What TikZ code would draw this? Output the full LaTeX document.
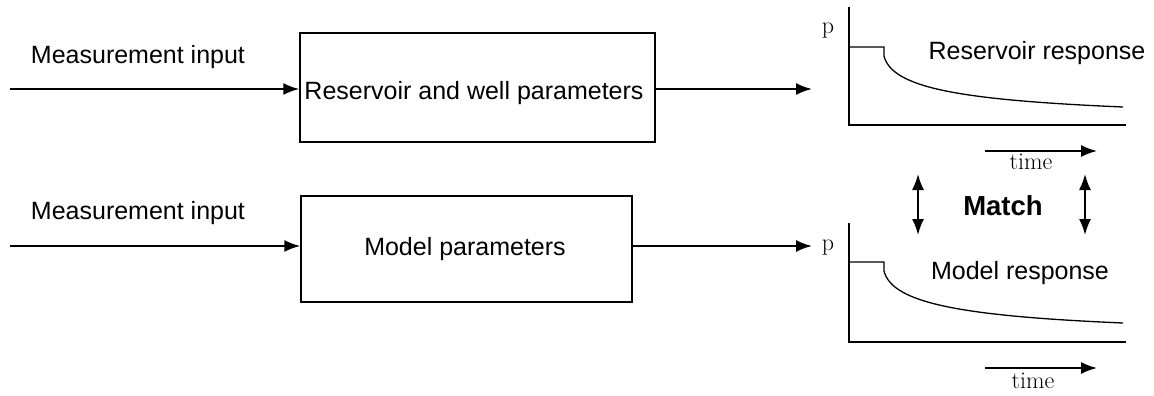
\documentclass[tikz,border=0pt]{standalone}
\usepackage{fontspec}
\setmainfont{Liberation Sans}
\newfontfamily\lmfont{Latin Modern Roman}
\usetikzlibrary{arrows.meta}
\begin{document}
\begin{tikzpicture}[x=1pt,y=-1pt,
  line width=1.8pt,
  arr/.style={-{Latex[length=16pt,width=12pt]}},
  darr/.style={{Latex[length=16pt,width=12pt]}-{Latex[length=16pt,width=12pt]}},
  boxnode/.style={draw,line width=1.5pt,inner sep=0pt},
  lbl/.style={inner sep=0pt,font=\fontsize{25}{29}\selectfont},
  serif/.style={inner sep=0pt,font=\lmfont\fontsize{24}{28}\selectfont},
  axis/.style={line width=1.8pt},
  curve/.style={line width=1.3pt}]
\useasboundingbox (0,0) rectangle (1154,396);
% top row
\node[lbl] (mi1) at (138,57) {Measurement input};
\node[boxnode,minimum width=355pt,minimum height=109pt] (b1) at (477.5,87.5) {};
\node[lbl] (t1) at (474,93) {Reservoir and well parameters};
\coordinate (in1) at (10,89);
\coordinate (out1) at (812,89);
\draw[arr] (in1) -- (in1 -| b1.west);
\draw[arr] (out1 -| b1.east) -- (out1);
\node[serif] (p1) at (828,31) {p};
\coordinate (o1) at (849,125);
\coordinate (ya1) at (849,7);
\coordinate (xa1) at (1126,125);
\draw[axis] (ya1) -- (o1) -- (xa1);
\draw[curve] (849,47) -- (884,47) -- (884,56) .. controls (892,88) and (960,100) .. (1123,107);
\node[lbl] (r1) at (1037,53) {Reservoir response};
\coordinate (ts1) at (985,151);
\coordinate (te1) at (1097,151);
\draw[arr] (ts1) -- (te1);
\node[serif] (time1) at (1031,162) {time};
% match
\coordinate (m1a) at (918,174);
\coordinate (m1b) at (918,235);
\coordinate (m2a) at (1085,174);
\coordinate (m2b) at (1085,235);
\draw[darr] (m1a) -- (m1b);
\draw[darr] (m2a) -- (m2b);
\node[lbl,font=\bfseries\fontsize{27.5}{31}\selectfont] (match) at (1003,206) {Match};
% bottom row
\node[lbl] (mi2) at (138,213) {Measurement input};
\node[boxnode,minimum width=331pt,minimum height=106pt] (b2) at (466.5,249) {};
\node[lbl] (t2) at (465,249) {Model parameters};
\coordinate (in2) at (10,246);
\coordinate (out2) at (812,246);
\draw[arr] (in2) -- (in2 -| b2.west);
\draw[arr] (out2 -| b2.east) -- (out2);
\node[serif] (p2) at (828,248) {p};
\coordinate (o2) at (849,342);
\coordinate (ya2) at (849,223);
\coordinate (xa2) at (1126,342);
\draw[axis] (ya2) -- (o2) -- (xa2);
\draw[curve] (849,262) -- (884,262) -- (884,271) .. controls (892,303) and (960,316) .. (1123,323);
\node[lbl] (r2) at (1020,273) {Model response};
\coordinate (ts2) at (985,368);
\coordinate (te2) at (1097,368);
\draw[arr] (ts2) -- (te2);
\node[serif] (time2) at (1033,381) {time};
\end{tikzpicture}
\end{document}
